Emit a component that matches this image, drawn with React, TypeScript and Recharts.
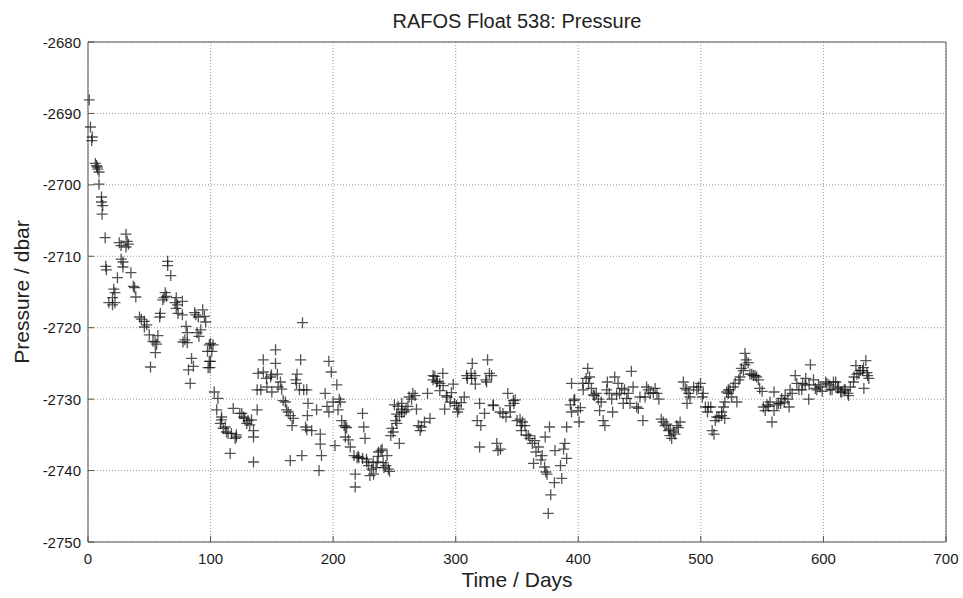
// @ts-nocheck
import { CartesianGrid, Scatter, ScatterChart, XAxis, YAxis } from 'recharts';

// [day, pressure dbar], split by ~100-day legs
const leg1 = [
  [1, -2688.1], [2, -2691.9], [3, -2693.8], [3.5, -2693.3], [6, -2697], [7, -2697.3], [7.5, -2697.5],
  [8, -2697.8], [9, -2698.2], [9, -2699.9], [11, -2701.7], [11, -2702.4], [12, -2702.9], [11.5, -2704.1],
  [14, -2707.4], [14.5, -2711.4], [15, -2711.9], [17, -2716.5], [20, -2715.8], [20, -2716.8], [21, -2714.6],
  [22, -2715.1], [22, -2716.5], [24, -2713], [25.5, -2708.1], [27, -2708.5], [27, -2710.4], [28.5, -2710.8],
  [28.5, -2711.5], [31, -2706.9], [31, -2708.7], [32, -2707.9], [33, -2708.3], [35, -2712.3], [37, -2714.2],
  [38, -2714.4], [39, -2715.7], [42, -2718.5], [43.5, -2718.8], [46, -2719.1], [46, -2719.9], [48, -2719.6],
  [50, -2721], [51, -2725.5], [53, -2721.9], [55, -2723.5], [54.7, -2722], [56, -2722.3], [57, -2721.1],
  [58.5, -2718.5], [59, -2718], [61, -2716.1], [62, -2715.8], [63, -2715.1], [64, -2715.6], [65, -2710.7],
  [65, -2711.3], [67.5, -2712.7], [71, -2716.5], [72, -2715.8], [72, -2717.3], [73, -2716.8], [73.5, -2718],
  [77, -2716.3], [77, -2718.2], [77.5, -2722], [79, -2721.7], [80, -2719.8], [81, -2720.7], [81, -2722.1],
  [82, -2725.9], [83.4, -2727.8], [84.5, -2724.3], [86, -2725.4], [87, -2717.9], [88, -2718.2], [89, -2720.7],
  [90, -2718.5], [90.5, -2721.2], [92, -2720.3], [93.6, -2717.5], [95, -2718.4], [96, -2719.2], [97.5, -2723.3],
  [98, -2725.6], [99, -2724.7],
];

const leg2 = [
  [99, -2722.4], [100, -2722.2], [100, -2724.7], [101, -2723.3], [102, -2722.4], [99.5, -2725.6], [103, -2729],
  [105, -2731.5], [106, -2729.9], [108, -2733.4], [109, -2732.5], [112, -2733.9], [113, -2734.6], [116, -2737.6],
  [117, -2734.8], [118.5, -2731.3], [120, -2735.5], [121, -2735], [125.5, -2732], [127, -2732.5], [129.5, -2733.4],
  [130.5, -2733], [135, -2734.4], [135, -2735.3], [135, -2738.8], [138, -2731.5], [138, -2728.7], [141, -2728.7],
  [143, -2724.5], [143, -2726.2], [146, -2728.3], [149, -2726.9], [150, -2729], [153, -2723.1], [153, -2725],
  [154.5, -2726.5], [157, -2727.6], [158, -2728.6], [161, -2730.4], [162, -2731.5], [165, -2732.3], [165, -2738.6],
  [166.5, -2733.7], [167.5, -2732.7], [169.5, -2727.3], [170.5, -2726.5], [172.5, -2728.7], [173.5, -2724.5],
  [174.5, -2737.9], [175, -2719.3], [176, -2728.7], [177.5, -2733.9], [178.5, -2728.7], [178.5, -2734.3],
  [179.5, -2730.6], [179, -2732.3], [182.5, -2734.4], [186.5, -2731.5], [188.5, -2740], [189.5, -2734.9],
  [189.5, -2736.3], [190.5, -2737.9], [193.5, -2729.2], [195, -2731], [196.5, -2724.7], [196.5, -2731.8],
  [198.5, -2726.2],
  [123.8, -2732], [127.9, -2732.7], [132, -2733.6], [133.4, -2732.9], [108.9, -2732.9], [110.3, -2734.1],
  [114.3, -2734.8], [121.1, -2735.3], [138.8, -2726.4], [145.6, -2727.1], [149.7, -2726.6], [155.1, -2728.3],
  [159.2, -2730.2], [163.3, -2731.8], [170.1, -2727.8],
];

const leg3 = [
  [200, -2730.4], [201.5, -2736.5], [203, -2728], [204, -2731.5], [205, -2730], [206, -2730.4], [207, -2733],
  [209, -2733.7], [210, -2733.9], [211, -2734], [210, -2735.3], [212.5, -2735.7], [214, -2736.7], [217, -2737.9],
  [218, -2740.5], [218, -2742.3], [219.5, -2738.2], [221, -2738.2], [224, -2732], [225, -2733.9], [226, -2735.5],
  [224, -2738.3], [227.5, -2738.8], [229, -2739.3], [230, -2740.7], [231.5, -2739.8], [233, -2740.5],
  [235, -2739.6], [236, -2738.8], [237, -2737.4], [239, -2737.2], [240, -2737], [241.5, -2739.6], [243, -2739.3],
  [244, -2737.9], [245, -2739.8], [246, -2740.1], [247, -2735.1], [248, -2734.1], [249, -2734.6], [250, -2730.8],
  [251, -2733], [252, -2733.4], [253, -2731], [254, -2736.2], [254, -2732.4], [256, -2731.9], [256, -2730.6],
  [258, -2731.8], [259.5, -2731.5], [261, -2731], [262, -2729.7], [265, -2729.2], [268, -2731.4], [269.5, -2733.7],
  [271, -2734.4], [272, -2733.9], [274.5, -2733.2], [277, -2729.2], [279, -2732.7], [281.5, -2727.3],
  [283, -2726.8], [285, -2727.5], [287, -2727.8], [287, -2728.8], [289.5, -2726.4], [291, -2731.4],
  [293, -2729.7], [295.5, -2730.4], [298, -2727.9],
  [220.4, -2738], [227.2, -2738.4], [232.7, -2738.9], [236.7, -2738], [240.8, -2738.9], [251.8, -2732.1],
  [255.9, -2731.4], [264, -2730], [266.8, -2729.5], [281.6, -2726.7], [284.3, -2727.6], [289.7, -2728.1],
  [292.4, -2729.5], [296.5, -2729.1],
];

const leg4 = [
  [299, -2730.6], [301.5, -2731.8], [302.5, -2731.4], [304.5, -2730.5], [307, -2729.7], [309.5, -2727.1],
  [312.5, -2726.4], [313.5, -2725], [316, -2727.9], [317.5, -2733], [319.5, -2730.6], [319.5, -2736.7],
  [320.5, -2733.7], [323.5, -2732], [324.5, -2727.3], [326, -2724.5], [327.5, -2726.4], [330.5, -2730.8],
  [333.5, -2736.2], [334.5, -2737.2], [336.5, -2737], [338.5, -2732], [341, -2732.5], [342.5, -2729.2],
  [344.5, -2731.8], [347.5, -2730.6], [348.5, -2730.1], [350, -2733], [353.5, -2733.7], [353.5, -2734.4],
  [354.5, -2733.2], [357.5, -2735], [360.5, -2735.5], [362.5, -2736.2], [363.5, -2739], [364.5, -2735.8],
  [365.5, -2737.4], [367.5, -2736.7], [369.5, -2738.5], [370.5, -2737.9], [372.5, -2739.5], [373, -2735.3],
  [373.5, -2740.2], [374.5, -2740.5], [376.5, -2733.9], [375.5, -2746], [377.5, -2743.4], [380.5, -2741.7],
  [381, -2737.2], [385.5, -2739.3], [386.5, -2741.1], [388, -2737], [389, -2736.2], [390.5, -2733.9],
  [390.5, -2738.3], [393.5, -2730.8], [394.5, -2731.8], [394.5, -2727.8], [396.5, -2730.2], [397, -2730],
  [300.7, -2730.9], [308.9, -2726.7], [313, -2727.1], [315.7, -2726.7], [325.2, -2727.6], [329.3, -2726.7],
  [330.7, -2730.9], [336.1, -2731.8], [344.2, -2730.9], [347, -2730.2], [352.5, -2732.8], [356.5, -2733.7],
  [359.2, -2735.1],
];

const leg5 = [
  [399.7, -2731.6], [400.7, -2733.2], [401.7, -2731.2], [403.7, -2727.8], [406.4, -2727.1], [407.7, -2725.7],
  [409.2, -2726.9], [410.7, -2728.5], [413.2, -2729.5], [414.7, -2729.2], [417.4, -2731.6], [418.7, -2730.4],
  [420.3, -2733], [421.7, -2733.7], [423.7, -2727.6], [425.3, -2729.2], [428, -2731.8], [429.7, -2726.9],
  [432.5, -2727.8], [433.7, -2729.2], [436.7, -2730.6], [437.7, -2728.7], [440.7, -2729.2], [443.3, -2726.1],
  [444.7, -2728.3], [447.7, -2731.1], [450.3, -2729.7], [452.7, -2733], [455.7, -2728.3], [458.7, -2729.2],
  [462.7, -2728.5], [464.2, -2729.2], [465.7, -2730], [467.7, -2732.8], [469.3, -2733.2], [470.7, -2733.7],
  [473.7, -2734.4], [474.7, -2735.1], [476.2, -2735.5], [477.7, -2734.6], [480.4, -2733.7], [483.1, -2733.2],
  [485.7, -2727.6], [487.3, -2728.5], [488.7, -2730.6], [490.1, -2729.2], [494.1, -2728.3], [496.7, -2728.7],
  [499.7, -2727.8], [501.2, -2729.7], [503.7, -2731.1], [505.4, -2731.8], [508.1, -2731.1], [509.2, -2734.4],
  [510.7, -2734.9], [511.7, -2733], [514.7, -2732.5],
  [404, -2728.7], [408.4, -2727.8], [412.2, -2729.4], [416.3, -2730], [423.2, -2728.7], [427.3, -2730],
  [431.3, -2729.4], [435.4, -2728.5], [439.5, -2729.9], [442.2, -2730.6], [449, -2731.3], [454.5, -2729.7],
  [457.1, -2728.7], [461.2, -2729.1], [472.2, -2733.5], [475, -2734.2], [478.9, -2734.9], [481.6, -2734],
  [488.5, -2728.7], [491.2, -2729.7], [498, -2728.3], [502, -2729.2], [506.1, -2731.1], [513, -2732.5],
  [518.5, -2731.1],
];

const leg6 = [
  [517, -2731.8], [517, -2732.3], [519.5, -2732.7], [519.6, -2730.4], [521, -2729], [522.4, -2729.2],
  [523.8, -2728.7], [526.5, -2728.3], [528, -2727.8], [529.4, -2730.4], [531, -2727.3], [533, -2725.7],
  [536, -2723.6], [536, -2725.2], [537, -2724.5], [538.6, -2724.9], [540, -2726.5], [542.8, -2726.7],
  [545.5, -2726.9], [548, -2728.5], [550, -2728.9], [551, -2731.1], [552.5, -2731.6], [554, -2730.8],
  [558, -2733.2], [559.7, -2729], [559.7, -2731.6], [562, -2730.8], [565, -2730.6], [568, -2730.4], [571, -2730],
  [572, -2731.1], [574.5, -2729.2], [577, -2726.7], [580, -2728.7], [583, -2727.8], [585.6, -2727.1],
  [588, -2730], [588.3, -2728], [589.4, -2725.2], [593.4, -2728.5], [596, -2728], [599, -2728.9],
  [601.8, -2727.6], [604.6, -2728], [607, -2728.7], [610, -2727.6], [611.6, -2728.5], [614, -2729],
  [617, -2728.7], [620, -2729.2], [622, -2728.3], [625, -2726.9], [626.5, -2725.3], [629, -2726.4],
  [632, -2726], [633, -2728.5], [634.6, -2724.6], [636, -2726.7], [637, -2727.1],
  [522.4, -2728.7], [525.2, -2729.7], [532, -2726.9], [534.7, -2726], [541.5, -2726.5], [544.2, -2726.7],
  [547, -2727.3], [555.1, -2731], [556.5, -2730.4], [563.3, -2730.6], [566, -2729.9], [568.8, -2729.5],
  [572.8, -2728.7], [578.3, -2727.8], [582.3, -2728.7], [585.1, -2728], [591.9, -2727.3], [594.6, -2728.7],
  [597.3, -2728.3], [602.8, -2727.8], [605.5, -2728.7], [608.2, -2727.6], [612.3, -2728.3], [615, -2729],
  [617.8, -2728.7], [620.5, -2729.5], [624.5, -2727.6], [627.3, -2726.5], [630, -2726], [632.7, -2725.6],
  [635.5, -2726.3],
];

const xTicks = [0, 100, 200, 300, 400, 500, 600, 700];
const yTicks = [-2750, -2740, -2730, -2720, -2710, -2700, -2690, -2680];

const data = [...leg1, ...leg2, ...leg3, ...leg4, ...leg5, ...leg6].map(([day, p]) => ({ day, p }));

const FONT = '"Liberation Sans", Arial, Helvetica, sans-serif';
const FRAME = '#555';
const TICK_LEN = 6;

const Cross = ({ cx, cy }) => {
  if (cx == null || cy == null) return null;
  const h = 5.5;
  return (
    <path
      d={`M${cx - h},${cy}H${cx + h}M${cx},${cy - h}V${cy + h}`}
      stroke="#111"
      strokeWidth={1.3}
      strokeOpacity={0.72}
      fill="none"
    />
  );
};

const BottomTick = ({ x, y, payload }) => (
  <g>
    <line x1={x} x2={x} y1={y} y2={y - TICK_LEN} stroke={FRAME} />
    <text x={x} y={y + 22} textAnchor="middle" fontSize={15} fill="#1a1a1a" fontFamily={FONT}>
      {payload.value}
    </text>
  </g>
);

const LeftTick = ({ x, y, payload }) => (
  <g>
    <line x1={x} x2={x + TICK_LEN} y1={y} y2={y} stroke={FRAME} />
    <text x={x - 7} y={y + 5.5} textAnchor="end" fontSize={15} fill="#1a1a1a" fontFamily={FONT}>
      {payload.value}
    </text>
  </g>
);

const TopTick = ({ x, y }) => <line x1={x} x2={x} y1={y} y2={y + TICK_LEN} stroke={FRAME} />;
const RightTick = ({ x, y }) => <line x1={x} x2={x - TICK_LEN} y1={y} y2={y} stroke={FRAME} />;

export default function App() {
  return (
    <div style={{ position: 'absolute', left: 0, top: 0, width: 963, height: 598, background: '#fff', fontFamily: FONT }}>
      <div style={{ position: 'absolute', left: 517, top: 21, transform: 'translate(-50%, -50%)', fontSize: 20, color: '#222', whiteSpace: 'nowrap' }}>
        RAFOS Float 538: Pressure
      </div>
      <ScatterChart width={963} height={598} margin={{ top: 41, right: 16, bottom: 26, left: 28 }}>
        <CartesianGrid stroke="#9a9a9a" strokeDasharray="1 2" />
        <XAxis
          type="number"
          dataKey="day"
          domain={[0, 700]}
          ticks={xTicks}
          interval={0}
          height={30}
          tickSize={0}
          tickMargin={0}
          tickLine={false}
          axisLine={{ stroke: FRAME }}
          tick={BottomTick}
        />
        <XAxis
          xAxisId="top"
          orientation="top"
          type="number"
          domain={[0, 700]}
          ticks={xTicks}
          interval={0}
          height={1}
          tickSize={0}
          tickMargin={0}
          tickLine={false}
          axisLine={{ stroke: FRAME }}
          tick={TopTick}
        />
        <YAxis
          type="number"
          dataKey="p"
          domain={[-2750, -2680]}
          ticks={yTicks}
          interval={0}
          width={60}
          tickSize={0}
          tickMargin={0}
          tickLine={false}
          axisLine={{ stroke: FRAME }}
          tick={LeftTick}
        />
        <YAxis
          yAxisId="right"
          orientation="right"
          type="number"
          domain={[-2750, -2680]}
          ticks={yTicks}
          interval={0}
          width={1}
          tickSize={0}
          tickMargin={0}
          tickLine={false}
          axisLine={{ stroke: FRAME }}
          tick={RightTick}
        />
        <Scatter data={data} shape={Cross} isAnimationActive={false} />
      </ScatterChart>
      <div style={{ position: 'absolute', left: 517, top: 580, transform: 'translate(-50%, -50%)', fontSize: 21, color: '#222', whiteSpace: 'nowrap' }}>
        Time / Days
      </div>
      <div style={{ position: 'absolute', left: 22, top: 292, transform: 'translate(-50%, -50%) rotate(-90deg)', fontSize: 21, color: '#222', whiteSpace: 'nowrap' }}>
        Pressure / dbar
      </div>
    </div>
  );
}
